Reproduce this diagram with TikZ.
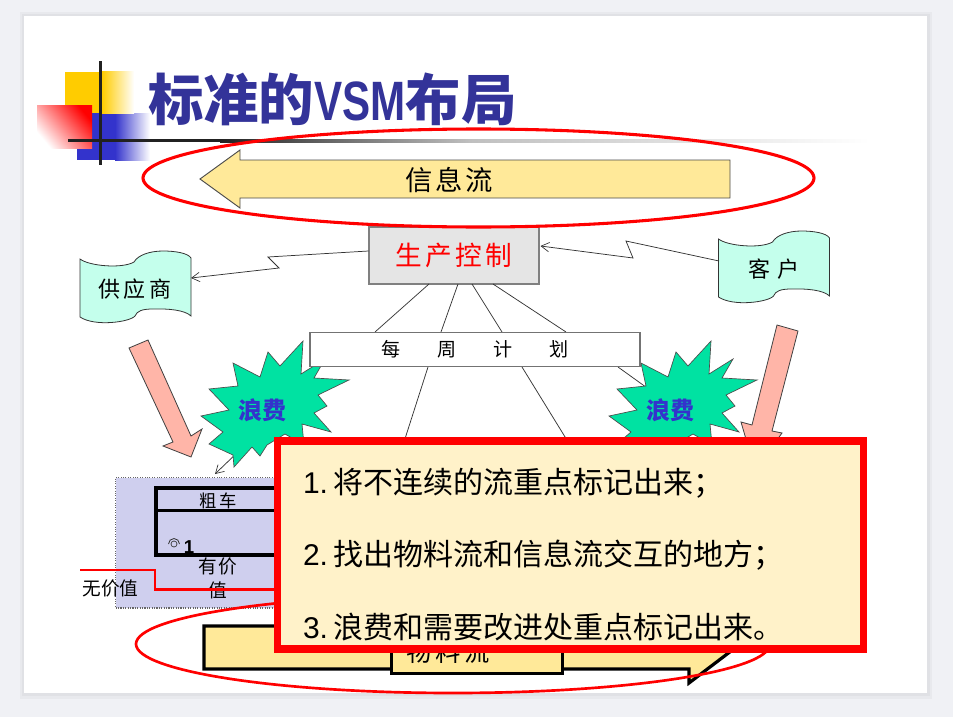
\documentclass[tikz,border=0pt]{standalone}
\usepackage{fontspec}
\usepackage{graphicx}
\setmainfont{Noto Sans CJK SC}
\newfontfamily\latf{Liberation Sans}
\newcommand\pxf[1]{\fontsize{#1}{#1}\selectfont}
\newcommand\gp[1]{\kern#1pt}
\usetikzlibrary{arrows.meta}
\definecolor{bannerblue}{HTML}{3333CC}
\definecolor{banneryellow}{HTML}{FFCC00}
\definecolor{titleblue}{HTML}{333399}
\definecolor{flowyellow}{HTML}{FFE999}
\definecolor{wavecyan}{HTML}{C4FFEC}
\definecolor{pinkarrow}{HTML}{FFB5A8}
\definecolor{stargreen}{HTML}{00E2A2}
\definecolor{regionblue}{HTML}{CFCFEE}
\definecolor{noteyellow}{HTML}{FFF2C9}
\definecolor{pagebg}{HTML}{F0F1F5}
\tikzset{
  x=0.75pt,y=-0.75pt,
  txt/.style={inner sep=0pt,outer sep=0pt,text=black},
  wave/.style={draw=black!80,line width=0.6pt,fill=wavecyan},
  pinkarr/.style={draw=black!75,line width=0.6pt,fill=pinkarrow},
  starshape/.style={draw=black!70,line width=0.5pt,fill=stargreen},
  thinline/.style={draw=black!80,line width=0.55pt},
  openarr/.style={thinline,-{Straight Barb[length=6pt,width=7pt,line width=0.5pt]}},
  redring/.style={draw=red,line width=2.3pt},
  heavy/.style={draw=black,line width=2.4pt},
  notetext/.style={txt,anchor=west},
}
\newcommand\wavepath{(0,0) .. controls (9,7) and (42,10) .. (54,3) .. controls (58,-4) and (70,-8) .. (83,-8) .. controls (95,-8) and (108,-6) .. (111,-1) -- (111,57) .. controls (105,51) and (88,49.5) .. (73,50) .. controls (62,50) and (57,52) .. (55,57) .. controls (50,63) and (15,68) .. (0,58) -- cycle}
\newcommand\starpath{(641,363) -- (668,377) -- (676,352) -- (688,366) -- (711,341) -- (709,374) -- (733,359) -- (722,378) -- (757,380) -- (726,395) -- (735,406) -- (722,413) -- (739,432) -- (710,424) -- (712,445) -- (693,434) -- (675,445) -- (668,456) -- (660,447) -- (642,467) -- (641,455) -- (617,444) -- (631,432) -- (609,416) -- (637,410) -- (617,389) -- (646,386) -- cycle}
\begin{document}
\begin{tikzpicture}
\useasboundingbox (0,0) rectangle (953,717);
\fill[pagebg] (0,0) rectangle (953,717);
\fill[black,opacity=0.03] (20,12) rectangle (932,699);
\fill[black,opacity=0.03] (22,14) rectangle (930,696);
\fill[white] (24,16) rectangle (927,693);

% banner
\fill[left color=bannerblue,right color=white] (115,113) rectangle (150,160);
\fill[bannerblue] (77,113) rectangle (115.2,160);
\fill[left color=banneryellow,right color=white] (102,72) rectangle (134,113);
\fill[banneryellow] (65,72) rectangle (102.2,113);
\fill[shading=axis,bottom color=white,top color=red,shading angle=-50] (37,106) rectangle (92,148);
\fill[black!87] (99.3,61) rectangle (102,165);
\fill[black!87] (68,139) rectangle (220,142);
\fill[left color=black!87,right color=black!25] (220,139) rectangle (470,142);
\fill[left color=black!25,right color=white] (470,139) rectangle (870,142);
\node[txt,anchor=west,text=titleblue] (title) at (148,99) {\pxf{41.6}\bfseries 标准的\scalebox{0.76}[1]{\latf\bfseries VSM}布局};

% information flow arrow
\draw[draw=black!70,line width=0.7pt,fill=flowyellow] (200,179) -- (240,150) -- (240,160) -- (730,160) -- (730,198) -- (240,198) -- (240,208) -- cycle;
\node[txt] (info) at (449,180) {\pxf{20.5}信\gp{2}息\gp{2}流};

% production control
\node[draw=black!50,line width=1.3pt,fill=black!10,minimum width=127.5pt,minimum height=42.5pt,inner sep=0pt,text=red] (prod) at (454,255.5) {\pxf{20}生\gp{2.5}产\gp{2.5}控\gp{2.5}制};

% supplier and customer
\path[wave,shift={(80,259)}] \wavepath;
\node[txt] (supplier) at (135,289) {\pxf{16.5}供\gp{2.5}应\gp{2.5}商};
\path[wave,shift={(718.5,239)}] \wavepath;
\node[txt] (customer) at (774,269) {\pxf{16.5}客\gp{5}户};
\coordinate (supplierport) at (191,278);
\coordinate (customerport) at (719,261);
\coordinate (prodleft) at (368.5,251);
\coordinate (prodright) at (540.5,246);
\draw[openarr] (prodleft) -- (268,257) -- (279,268) -- (supplierport);
\draw[openarr] (customerport) -- (626,241) -- (633,258) -- (prodright);

% weekly plan box and connectors
\coordinate (p1) at (429,284); \coordinate (p2) at (458,284); \coordinate (p3) at (472,284); \coordinate (p4) at (493,284);
\coordinate (w1) at (375,332); \coordinate (w2) at (441,332); \coordinate (w3) at (502,332); \coordinate (w4) at (566,332);
\draw[thinline] (p1) -- (w1); \draw[thinline] (p2) -- (w2); \draw[thinline] (p3) -- (w3); \draw[thinline] (p4) -- (w4);
\coordinate (w5) at (428,367); \coordinate (w6) at (522,367); \coordinate (w7) at (618,367);
\coordinate (n5) at (403,445); \coordinate (n6) at (570,445); \coordinate (n7) at (650,390);
\draw[thinline] (w5) -- (n5); \draw[thinline] (w6) -- (n6); \draw[thinline] (w7) -- (n7);
\coordinate (s2) at (700,430); \coordinate (s3) at (725,448);
\draw[thinline] (s2) -- (s3);

% region
\fill[regionblue] (115.5,477.5) rectangle (400,608);
\draw[black!60,line width=0.8pt,densely dotted] (400,477.5) -- (115.5,477.5) -- (115.5,608) -- (400,608);

% stars
\coordinate (starfoot) at (240,450);
\coordinate (regiontop) at (215,474);
\draw[openarr] (starfoot) -- (regiontop);
\path[starshape,shift={(-408,0)}] \starpath;
\path[starshape] \starpath;
\node[txt,text=bannerblue] (wasteL) at (262,410) {\pxf{18}\bfseries 浪费};
\node[txt,text=bannerblue] (wasteR) at (670,410) {\pxf{18}\bfseries 浪费};

% plan box on top of star tip
\node[draw=black!55,line width=0.8pt,fill=white,minimum width=247.5pt,minimum height=26pt,inner sep=0pt] (plan) at (475,349.5) {\pxf{14.3}每\gp{27.5}周\gp{27.5}计\gp{27.5}划};

% pink arrows
\draw[pinkarr] (129,348) -- (148,340) -- (191,436) -- (202,429) -- (191,457) -- (163,446) -- (173,442) -- cycle;
\draw[pinkarr] (777,325) -- (798,331) -- (772,431) -- (782,433) -- (755,470) -- (741,422) -- (752,425) -- cycle;

% process box
\draw[heavy] (340,488) -- (156,488) -- (156,555) -- (340,555);
\draw[heavy] (156,510.5) -- (340,510.5);
\node[txt] (lathe) at (218,501) {\pxf{13}粗\gp{2}车};
\draw[black!80,line width=0.5pt] (174,544) circle [radius=3];
\draw[black!80,line width=0.6pt] (168.5,544) arc [start angle=180,end angle=360,radius=5.5];
\node[txt] (one) at (189,547) {\latf\bfseries\pxf{14}1};
\node[txt] (valA) at (218,566) {\pxf{14}有\gp{1}价};
\node[txt] (valB) at (218,590) {\pxf{14}值};
\node[txt] (noval) at (110.5,588) {\pxf{14}无价值};
\draw[draw=red,line width=2.2pt] (80,570) -- (155,570) -- (155,589.5) -- (300,589.5);

% material flow
\draw[heavy,fill=flowyellow] (204,626) -- (689,626) -- (689,612) -- (735,648) -- (689,683) -- (689,669) -- (204,669) -- cycle;
\node[draw=black,line width=2.1pt,fill=flowyellow,minimum width=128pt,minimum height=32.5pt,inner sep=0pt] (mat) at (477,651.5) {};
\node[txt] (matlabel) at (448,652) {\pxf{19}物\gp{3}料\gp{3}流};

% red ellipses
\draw[redring] (478.5,178) circle [x radius=335.5,y radius=49];
\draw[redring,line width=2pt] (453,644) circle [x radius=317,y radius=49];

% note
\node[draw=red,line width=5.6pt,fill=noteyellow,minimum width=439.5pt,minimum height=156pt,inner sep=0pt] (note) at (570.5,545) {};
\node[notetext] (n1) at (303,483) {\pxf{22.5}{\latf 1.}\gp{4}将不连续的流重点标记出来；};
\node[notetext] (n2) at (303,555) {\pxf{22.5}{\latf 2.}\gp{4}找出物料流和信息流交互的地方；};
\node[notetext] (n3) at (303,627) {\pxf{22.5}{\latf 3.}\gp{4}浪费和需要改进处重点标记出来。};
\end{tikzpicture}
\end{document}
